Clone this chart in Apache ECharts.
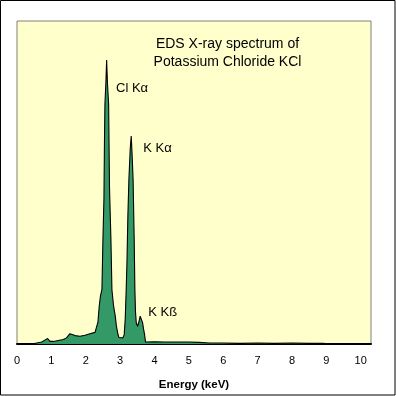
<!DOCTYPE html>
<html>
<head>
<meta charset="utf-8">
<script src="https://cdn.jsdelivr.net/npm/echarts@6/dist/echarts.min.js"></script>
<style>
html,body{margin:0;padding:0;background:#fff;}
#c{width:396px;height:396px;}
</style>
</head>
<body>
<div id="c"></div>
<script>
// Energy (keV) and counts (arbitrary units)
var energy = [0.00, 0.43, 0.72, 0.81, 0.89, 0.96, 1.06, 1.20, 1.35, 1.44, 1.54, 1.69, 1.83, 1.98, 2.12, 2.27,
  2.326, 2.355, 2.392, 2.427, 2.471, 2.500, 2.529, 2.544, 2.558, 2.587, 2.608, 2.631, 2.666, 2.692, 2.733, 2.762,
  2.811, 2.858, 2.892, 2.936, 2.965, 3.023, 3.081, 3.119, 3.148, 3.177, 3.198, 3.227, 3.256, 3.294, 3.323, 3.349,
  3.378, 3.410, 3.430, 3.448, 3.471, 3.509, 3.547, 3.584, 3.613, 3.654, 3.683, 3.712, 3.741, 3.779,
  4.0, 4.3, 4.6, 5.0, 5.3, 5.6, 6.0, 6.5, 7.0, 7.5, 8.0, 8.5, 8.9, 9.1, 10.3];
var counts = [0, 0, 6, 12, 17, 8, 8, 11, 14, 19, 32, 26, 24, 27, 32, 36,
  37, 68, 117, 148, 168, 323, 448, 618, 742, 810, 879, 810, 742, 482, 323, 168,
  117, 87, 56, 31, 20, 17, 19, 29, 76, 168, 247, 402, 510, 603, 644, 587,
  510, 323, 168, 99, 65, 55, 68, 86, 80, 66, 46, 29, 6, 5,
  7, 6, 6, 6, 5, 3, 3, 2, 3, 2, 3, 2, 2, 0, 0];
var xTicks = [0, 1, 2, 3, 4, 5, 6, 7, 8, 9, 10];
var titleLines = ['EDS X-ray spectrum of', 'Potassium Chloride KCl'];
var peakLabels = ['Cl Kα', 'K Kα', 'K Kß'];

var pairs = energy.map(function (e, i) { return [e, counts[i]]; });
var FONT = '"Liberation Sans", Arial, sans-serif';

var chart = echarts.init(document.getElementById('c'), null, {renderer: 'canvas'});
chart.setOption({
  animation: false,
  backgroundColor: '#ffffff',
  grid: {
    left: 17, top: 21, right: 25, bottom: 51.5,
    show: true, backgroundColor: '#FFFFCC', borderColor: '#808080', borderWidth: 1
  },
  xAxis: {
    type: 'value', min: 0, max: 10.3, interval: 1,
    name: 'Energy (keV)', nameLocation: 'middle', nameGap: 35,
    nameTextStyle: {fontFamily: FONT, fontSize: 11.5, fontWeight: 'bold', color: '#000'},
    axisLine: {show: true, onZero: false, lineStyle: {color: '#000', width: 2}},
    axisTick: {show: false},
    splitLine: {show: false},
    axisLabel: {
      margin: 11, fontFamily: FONT, fontSize: 11, color: '#000',
      showMaxLabel: false,
      formatter: function (v) { return xTicks.indexOf(v) >= 0 ? String(v) : ''; }
    }
  },
  yAxis: {
    type: 'value', min: 0, max: 1000, show: false
  },
  series: [{
    type: 'line',
    data: pairs,
    showSymbol: false,
    smooth: false,
    sampling: null,
    lineStyle: {color: '#000', width: 1.1},
    areaStyle: {color: '#339966', opacity: 1},
    z: 2
  }],
  graphic: [
    {type: 'rect', shape: {x: 0.5, y: 0.5, width: 394.5, height: 394.5}, style: {fill: 'none', stroke: '#000', lineWidth: 1}, z: 100},
    {type: 'text', x: 227.5, y: 44, style: {text: titleLines[0], font: '14px ' + FONT, fill: '#000', textAlign: 'center', textVerticalAlign: 'middle'}, z: 100},
    {type: 'text', x: 227.5, y: 62, style: {text: titleLines[1], font: '14px ' + FONT, fill: '#000', textAlign: 'center', textVerticalAlign: 'middle'}, z: 100},
    {type: 'text', x: 116, y: 88, style: {text: peakLabels[0], font: '13px ' + FONT, fill: '#000', textAlign: 'left', textVerticalAlign: 'middle'}, z: 100},
    {type: 'text', x: 143.3, y: 148.5, style: {text: peakLabels[1], font: '13px ' + FONT, fill: '#000', textAlign: 'left', textVerticalAlign: 'middle'}, z: 100},
    {type: 'text', x: 148.3, y: 312, style: {text: peakLabels[2], font: '13px ' + FONT, fill: '#000', textAlign: 'left', textVerticalAlign: 'middle'}, z: 100}
  ]
});
</script>
</body>
</html>
